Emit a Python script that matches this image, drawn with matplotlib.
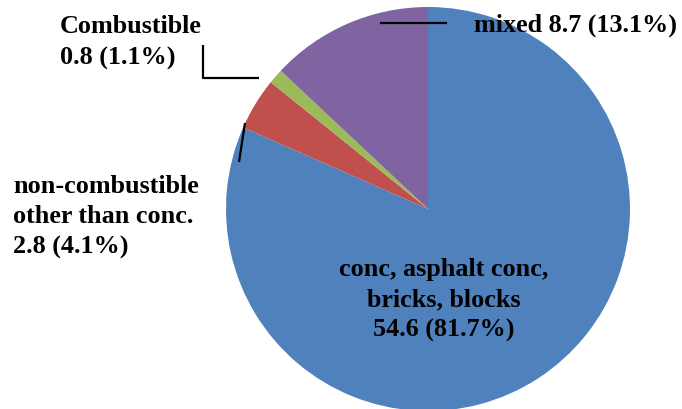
import matplotlib
matplotlib.use("Agg")
import matplotlib.pyplot as plt

categories = ["conc, asphalt conc,\nbricks, blocks", "non-combustible\nother than conc.", "Combustible", "mixed"]
values = [54.6, 2.8, 0.8, 8.7]
percents = [81.7, 4.1, 1.1, 13.1]
colors = ["#4F81BD", "#C0504D", "#9BBB59", "#8064A2"]

W, H = 682, 410
fig = plt.figure(figsize=(W / 100, H / 100), dpi=100)
ax = fig.add_axes([0, 0, 1, 1])

cx, cy, r = 428, H - 210, 202
ax.pie(values, colors=colors, startangle=90, counterclock=False,
       center=(cx, cy), radius=r, frame=True,
       wedgeprops=dict(linewidth=0))
ax.set_xlim(0, W)
ax.set_ylim(0, H)
ax.set_aspect("equal")
ax.axis("off")

font = dict(family="Liberation Serif", fontweight="bold", fontsize=18.8, color="black")
labels = [f"{c}\n{v} ({p}%)" for c, v, p in zip(categories, values, percents)]
labels[3] = f"{categories[3]} {values[3]} ({percents[3]}%)"

def Y(y):
    return H - y

ax.text(444, Y(258), labels[0], ha="center", va="top", multialignment="center", linespacing=1.4, **font)
ax.text(13, Y(175), labels[1], ha="left", va="top", multialignment="left", linespacing=1.4, **font)
ax.text(60, Y(15), labels[2], ha="left", va="top", multialignment="left", linespacing=1.45, **font)
ax.text(474, Y(14), labels[3], ha="left", va="top", **font)

lk = dict(color="black", linewidth=1.6, solid_capstyle="butt")
ax.plot([380, 447], [Y(24), Y(24)], **lk)
ax.plot([203, 203, 259], [Y(46), Y(79), Y(79)], **lk)
ax.plot([245, 239], [Y(124), Y(163)], **lk)

fig.savefig("out.png", dpi=100)
